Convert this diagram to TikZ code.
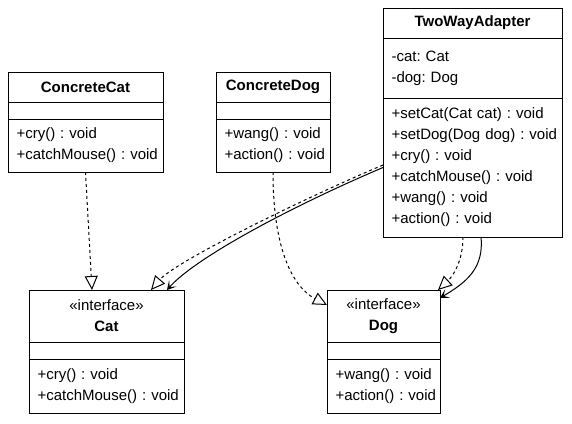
\documentclass[tikz,border=0pt]{standalone}
\usepackage{fontspec}
\setmainfont{Liberation Sans}
\usetikzlibrary{arrows.meta}

\newcommand{\umlfont}{\fontsize{15}{21}\selectfont\frenchspacing}

\tikzset{
    part/.style={draw, line width=1pt, anchor=north west, inner sep=0pt, outer sep=0pt, font=\umlfont},
    title/.style={part, align=center},
    body/.style={part, align=left, inner xsep=8.5pt},
    realize/.style={line width=1pt, dash pattern=on 3pt off 3pt, -{Triangle[open, length=14pt, width=13pt]}},
    assoc/.style={line width=1pt, -{Stealth[length=9pt, width=10pt, inset=5pt]}}
}

\begin{document}
\begin{tikzpicture}[x=1pt, y=-1pt]

    \useasboundingbox (0,0) rectangle (572,423);

    % ConcreteCat
    \node[title, minimum width=155pt, minimum height=30pt] (ccat-t) at (8,72) {\textbf{ConcreteCat}};
    \node[body, text width=138pt, minimum height=17pt] (ccat-a) at (ccat-t.south west) {};
    \node[body, text width=138pt, minimum height=53pt] (ccat-m) at (ccat-a.south west) {+cry()~:~void\\+catchMouse()~:~void};

    % ConcreteDog
    \node[title, minimum width=114pt, minimum height=30pt] (cdog-t) at (216,72) {\textbf{ConcreteDog}};
    \node[body, text width=97pt, minimum height=17pt] (cdog-a) at (cdog-t.south west) {};
    \node[body, text width=97pt, minimum height=53pt] (cdog-m) at (cdog-a.south west) {+wang()~:~void\\+action()~:~void};

    % TwoWayAdapter
    \node[title, minimum width=179pt, minimum height=30pt] (adapter-t) at (383,8) {\textbf{TwoWayAdapter}};
    \node[body, text width=162pt, minimum height=60pt] (adapter-a) at (adapter-t.south west) {-cat:~Cat\\-dog:~Dog};
    \node[body, text width=162pt, minimum height=139pt] (adapter-m) at (adapter-a.south west) {+setCat(Cat~cat)~:~void\\+setDog(Dog~dog)~:~void\\+cry()~:~void\\+catchMouse()~:~void\\+wang()~:~void\\+action()~:~void};

    % Cat interface
    \node[title, minimum width=155pt, minimum height=52pt] (cat-t) at (29,290) {«interface»\\\textbf{Cat}};
    \node[body, text width=138pt, minimum height=17pt] (cat-a) at (cat-t.south west) {};
    \node[body, text width=138pt, minimum height=54pt] (cat-m) at (cat-a.south west) {+cry()~:~void\\+catchMouse()~:~void};

    % Dog interface
    \node[title, minimum width=113pt, minimum height=52pt] (dog-t) at (327,290) {«interface»\\\textbf{Dog}};
    \node[body, text width=96pt, minimum height=17pt] (dog-a) at (dog-t.south west) {};
    \node[body, text width=96pt, minimum height=54pt] (dog-m) at (dog-a.south west) {+wang()~:~void\\+action()~:~void};

    % Realizations
    \draw[realize] (ccat-m.south) -- ([xshift=-14.5pt]cat-t.north);
    \draw[realize] (cdog-m.south) .. controls +(0,78) and +(-34,-18) .. ([yshift=11pt]dog-t.west);
    \draw[realize] ([yshift=2.5pt]adapter-m.west) .. controls +(-83,35) and +(24,-28) .. ([xshift=-33pt]cat-t.north east);
    \draw[realize] ([xshift=-9.5pt]adapter-m.south) .. controls +(0,25) and +(14,-13) .. ([xshift=-2pt]dog-t.north east);

    % Associations
    \draw[assoc] (adapter-m.west) .. controls +(-93,39.5) and +(28,-32) .. ([xshift=-17pt]cat-t.north east);
    \draw[assoc] ([xshift=8.5pt]adapter-m.south) .. controls +(3,31) and +(27,-16) .. ([yshift=18pt]dog-t.east);
\end{tikzpicture}
\end{document}
